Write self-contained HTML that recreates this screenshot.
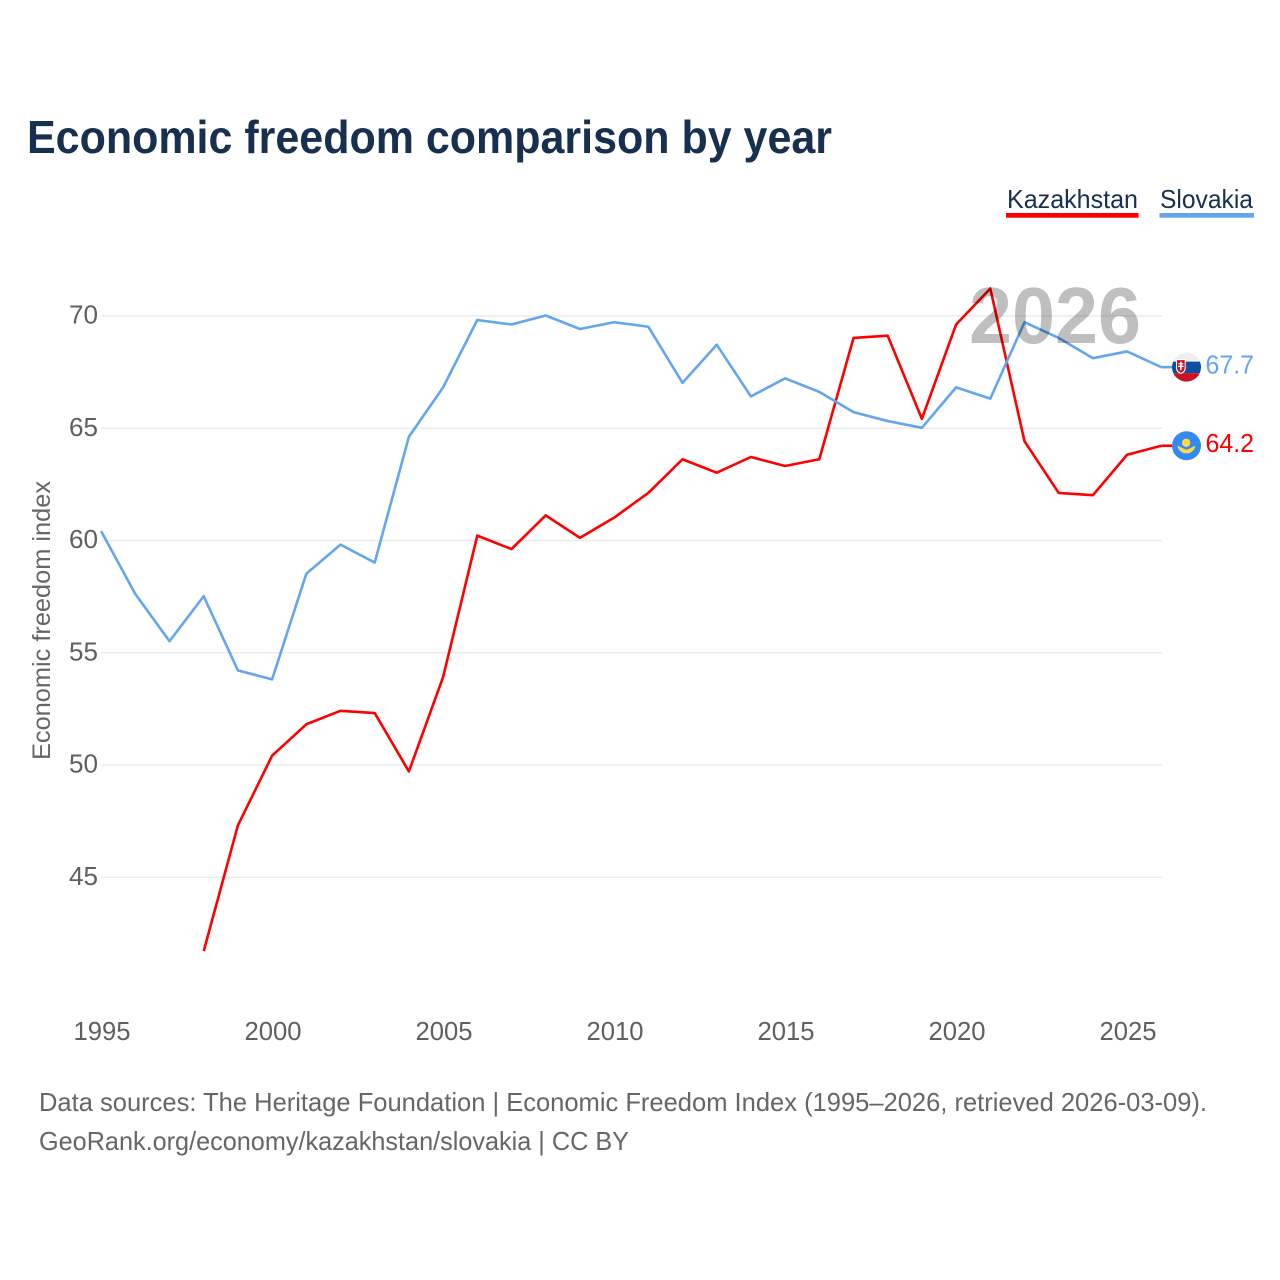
<!DOCTYPE html>
<html>
<head>
<meta charset="utf-8">
<title>Economic freedom comparison by year</title>
<style>
html,body{margin:0;padding:0;background:#fff;}
svg{display:block;}
text{font-family:"Liberation Sans",sans-serif;}
</style>
</head>
<body>
<svg id="chart" width="1280" height="1280" viewBox="0 0 1280 1280" xmlns="http://www.w3.org/2000/svg">
  <defs>
    <clipPath id="clip-sk"><circle cx="0" cy="0" r="14.500"/></clipPath>
    <clipPath id="clip-kz"><circle cx="0" cy="0" r="14.500"/></clipPath>
  </defs>
  <text x="27" y="153" font-size="46" font-weight="700" fill="#18304f" textLength="805" lengthAdjust="spacingAndGlyphs">Economic freedom comparison by year</text>

  <g>
    <g>
      <text x="1007" y="208" font-size="26" fill="#18304f" textLength="131" lengthAdjust="spacingAndGlyphs">Kazakhstan</text>
      <rect x="1006" y="213" width="132.500" height="4.700" fill="#ff0000"/>
    </g>
    <g>
      <text x="1160" y="208" font-size="26" fill="#18304f" textLength="93" lengthAdjust="spacingAndGlyphs">Slovakia</text>
      <rect x="1159.500" y="213" width="94.500" height="4.700" fill="#63a6ec"/>
    </g>
  </g>

  <g id="grid"></g>
  <g id="yticks"></g>
  <g id="xticks"></g>
  <text transform="translate(50,620.500) rotate(-90)" text-anchor="middle" font-size="25" fill="#666666" textLength="279" lengthAdjust="spacingAndGlyphs">Economic freedom index</text>

  <g id="series"></g>
  <text x="969" y="343" font-size="80" font-weight="700" fill="#000" fill-opacity="0.25" textLength="172" lengthAdjust="spacingAndGlyphs">2026</text>
  <g id="ends"></g>

  <g>
    <text x="39" y="1111" font-size="26" fill="#666666" textLength="1168" lengthAdjust="spacingAndGlyphs">Data sources: The Heritage Foundation | Economic Freedom Index (1995–2026, retrieved 2026-03-09).</text>
    <text x="39" y="1150" font-size="26" fill="#666666" textLength="590" lengthAdjust="spacingAndGlyphs">GeoRank.org/economy/kazakhstan/slovakia | CC BY</text>
  </g>
</svg>
<script>
const years = [1995,1996,1997,1998,1999,2000,2001,2002,2003,2004,2005,2006,2007,2008,2009,2010,2011,2012,2013,2014,2015,2016,2017,2018,2019,2020,2021,2022,2023,2024,2025,2026];
const slovakia = [60.4,57.6,55.5,57.5,54.2,53.8,58.5,59.8,59.0,64.6,66.8,69.8,69.6,70.0,69.4,69.7,69.5,67.0,68.7,66.4,67.2,66.6,65.7,65.3,65.0,66.8,66.3,69.7,69.0,68.1,68.4,67.7];
const kazakhstan = [null,null,null,41.7,47.3,50.4,51.8,52.4,52.3,49.7,53.9,60.2,59.6,61.1,60.1,61.0,62.1,63.6,63.0,63.7,63.3,63.6,69.0,69.1,65.4,69.6,71.2,64.4,62.1,62.0,63.8,64.2];
const yTickValues = [45,50,55,60,65,70];
const xTickValues = [1995,2000,2005,2010,2015,2020,2025];

const NS = 'http://www.w3.org/2000/svg';
const xScale = function (yr) { return 101.1 + (yr - 1995) * 34.2; };
const yScale = function (v) { return 315.5 + (70 - v) * 22.46; };
const make = function (tag, attrs, parent) {
  const el = document.createElementNS(NS, tag);
  Object.keys(attrs).forEach(function (k) { el.setAttribute(k, attrs[k]); });
  parent.appendChild(el);
  return el;
};

const grid = document.getElementById('grid');
const yticks = document.getElementById('yticks');
yTickValues.forEach(function (v) {
  const line = make('line', {x1: 101, x2: 1162, y1: yScale(v) + 0.4, y2: yScale(v) + 0.4, stroke: '#ebebeb', 'stroke-width': 1.5}, grid);
  
  
  const t = make('text', {x: 98, y: yScale(v) + 8, 'text-anchor': 'end', 'font-size': 26, fill: '#5f5f5f', textLength: 29, lengthAdjust: 'spacingAndGlyphs'}, yticks);
  
  
  t.textContent = v;
});

const xticks = document.getElementById('xticks');
xTickValues.forEach(function (yr) {
  const t = make('text', {x: xScale(yr) + 0.9, y: 1040, 'text-anchor': 'middle', 'font-size': 26, fill: '#5f5f5f', textLength: 57, lengthAdjust: 'spacingAndGlyphs'}, xticks);
  
  
  t.textContent = yr;
});

const linePath = function (vals) {
  let d = '';
  vals.forEach(function (v, i) {
    if (v === null) return;
    d += (d === '' ? 'M' : 'L') + xScale(years[i]).toFixed(2) + ' ' + yScale(v).toFixed(2);
  });
  return d;
};
const lastValue = function (vals) { return vals[vals.length - 1]; };

const series = document.getElementById('series');
const kzLine = make('path', {d: linePath(kazakhstan), fill: 'none', stroke: '#ff0000', 'stroke-width': 2.600, 'stroke-linejoin': 'round'}, series);


const skLine = make('path', {d: linePath(slovakia), fill: 'none', stroke: '#63a6ec', 'stroke-width': 2.600, 'stroke-linejoin': 'round'}, series);



const ends = document.getElementById('ends');
const skY = yScale(lastValue(slovakia));
const kzY = yScale(lastValue(kazakhstan));
const endX = xScale(years[years.length - 1]);

const skConn = make('line', {x1: endX, x2: 1172, y1: skY, y2: skY, stroke: '#63a6ec', 'stroke-width': 2.600}, ends);


const kzConn = make('line', {x1: endX, x2: 1172, y1: kzY, y2: kzY, stroke: '#ff0000', 'stroke-width': 2.600}, ends);



const skFlag = make('g', {transform: 'translate(1186.500 ' + skY + ')', 'clip-path': 'url(#clip-sk)'}, ends);


make('rect', {x: -15, y: -15, width: 30, height: 30, fill: '#eeeeee'}, skFlag);
make('rect', {x: -15, y: -5.500, width: 30, height: 11.500, fill: '#0b4ea2'}, skFlag);
make('rect', {x: -15, y: 6, width: 30, height: 9, fill: '#cc1126'}, skFlag);
make('path', {d: 'M-10.500 -8H-0.800V1C-0.800 4.500 -3.500 6 -5.650 7C-7.800 6 -10.500 4.500 -10.500 1Z', fill: '#ffffff'}, skFlag);
make('path', {d: 'M-9.500 -7H-1.800V0.500C-1.800 3.500 -3.800 4.800 -5.650 5.700C-7.500 4.800 -9.500 3.500 -9.500 0.500Z', fill: '#cc1126'}, skFlag);
make('path', {d: 'M-6.400 -5.500H-4.900V-4H-3.300V-2.800H-4.900V-1.400H-2.900V-0.200H-4.900V3H-6.400V-0.200H-8.400V-1.400H-6.400V-2.800H-8V-4H-6.400Z', fill: '#ffffff'}, skFlag);

const kzFlag = make('g', {transform: 'translate(1186.500 ' + kzY + ')', 'clip-path': 'url(#clip-kz)'}, ends);


make('rect', {x: -15, y: -15, width: 30, height: 30, fill: '#338af3'}, kzFlag);
make('circle', {cx: -0.300, cy: -3, r: 4.200, fill: '#ffda44'}, kzFlag);
make('path', {d: 'M-9 0C-6.500 0.800 -4 2.500 -1.500 3.500C-0.300 3.900 0.700 3.900 1.500 3.500C4 2.500 6.500 0.800 8.800 0C8.500 3.500 5.500 6.800 2 7.500H-2C-5.500 6.800 -8.500 3.500 -9 0Z', fill: '#ffda44'}, kzFlag);

const skLabel = make('text', {x: 1205.500, y: skY + 6.300, 'font-size': 26, fill: '#63a6ec', textLength: 48.500, lengthAdjust: 'spacingAndGlyphs'}, ends);


skLabel.textContent = lastValue(slovakia).toFixed(1);
const kzLabel = make('text', {x: 1205.500, y: kzY + 6.300, 'font-size': 26, fill: '#ff0000', textLength: 48.500, lengthAdjust: 'spacingAndGlyphs'}, ends);


kzLabel.textContent = lastValue(kazakhstan).toFixed(1);
</script>
</body>
</html>
